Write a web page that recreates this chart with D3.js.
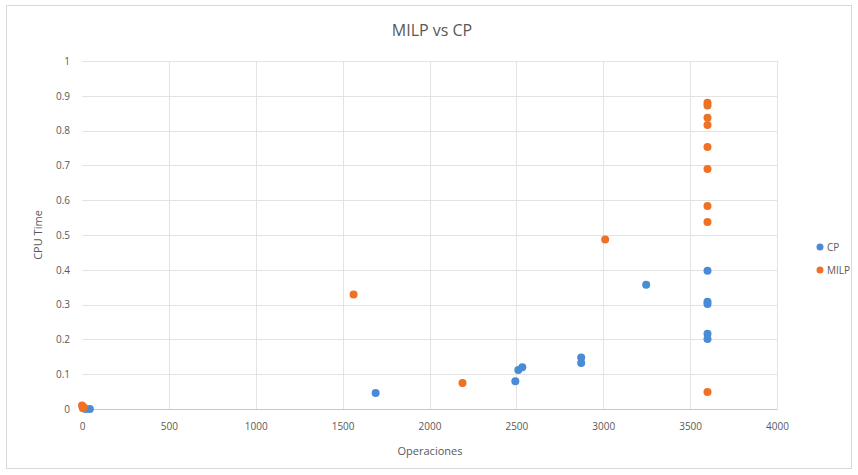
<!DOCTYPE html>
<html>
<head>
<meta charset="utf-8">
<script src="https://cdn.jsdelivr.net/npm/d3@7"></script>
<style>
  html, body { margin: 0; padding: 0; background: #fff; }
  text { font-family: "Open Sans", "Noto Sans", sans-serif; }
</style>
</head>
<body>
<svg id="chart" width="858" height="475"></svg>
<script>
// Series: [operations, CPU time]
const cpPoints = [
  [20, 0.0], [45, 0.0],
  [1690, 0.046],
  [2494, 0.080], [2511, 0.112], [2534, 0.120],
  [2873, 0.132], [2873, 0.148],
  [3247, 0.357],
  [3600, 0.397], [3600, 0.308], [3600, 0.302], [3600, 0.216], [3600, 0.201]
];
const milpPoints = [
  [0, 0.010], [5, 0.002], [10, 0.005],
  [1563, 0.329],
  [2190, 0.075],
  [3011, 0.487],
  [3600, 0.880], [3600, 0.872], [3600, 0.837], [3600, 0.816], [3600, 0.753],
  [3600, 0.690], [3600, 0.583], [3600, 0.537], [3600, 0.049]
];
const seriesNames = ["CP", "MILP"];
const seriesColors = ["#4a8bd6", "#ee7124"];
const xTicks = [0, 500, 1000, 1500, 2000, 2500, 3000, 3500, 4000];
const yTicks = [0, 0.1, 0.2, 0.3, 0.4, 0.5, 0.6, 0.7, 0.8, 0.9, 1];
const chartTitle = "MILP vs CP";
const xTitle = "Operaciones";
const yTitle = "CPU Time";

const svg = d3.select("#chart");
const W = 858, H = 475;
const plot = { left: 82, right: 777, top: 61, bottom: 409 };

// outer chart frame
svg.append("rect").attr("x", 6.5).attr("y", 5.5).attr("width", W - 13).attr("height", H - 12)
  .attr("fill", "#fff").attr("stroke", "#d9d9d9");

const x = d3.scaleLinear().domain([0, 4000]).range([plot.left, plot.right]);
const y = d3.scaleLinear().domain([0, 1]).range([plot.bottom, plot.top]);

// gridlines
const grid = svg.append("g");
grid.selectAll("line.h").data(yTicks.filter(d => d > 0)).join("line")
  .attr("x1", plot.left).attr("x2", plot.right)
  .attr("y1", d => Math.round(y(d)) + 0.5).attr("y2", d => Math.round(y(d)) + 0.5)
  .attr("stroke", "#e3e3e3");
grid.selectAll("line.v").data(xTicks.filter(d => d > 0)).join("line")
  .attr("x1", d => Math.round(x(d)) + 0.5).attr("x2", d => Math.round(x(d)) + 0.5)
  .attr("y1", plot.top).attr("y2", plot.bottom)
  .attr("stroke", "#e3e3e3");

// axes
const xAxis = svg.append("g").attr("transform", `translate(0,${plot.bottom})`)
  .call(d3.axisBottom(x).tickValues(xTicks).tickSize(0).tickPadding(14).tickFormat(d3.format("d")));
const yAxis = svg.append("g").attr("transform", `translate(${plot.left},0)`)
  .call(d3.axisLeft(y).tickValues(yTicks).tickSize(0).tickPadding(12).tickFormat(d => d3.format("")(+d.toFixed(1))));
[xAxis, yAxis].forEach(a => {
  a.selectAll("text").attr("fill", "#595959").style("font-size", "10px");
});
yAxis.select(".domain").remove();
xAxis.select(".domain").attr("stroke", "#c8c8c8");

// points
const series = [cpPoints, milpPoints];
series.forEach((pts, i) => {
  svg.append("g").selectAll("circle").data(pts).join("circle")
    .attr("cx", d => x(d[0])).attr("cy", d => y(d[1])).attr("r", 4)
    .attr("fill", seriesColors[i]);
});

// titles
svg.append("text").attr("x", 432).attr("y", 36).attr("text-anchor", "middle")
  .attr("fill", "#595959").style("font-size", "16px").text(chartTitle);
svg.append("text").attr("x", 430).attr("y", 455).attr("text-anchor", "middle")
  .attr("fill", "#595959").style("font-size", "11px").text(xTitle);
svg.append("text").attr("transform", "translate(42,235) rotate(-90)").attr("text-anchor", "middle")
  .attr("fill", "#595959").style("font-size", "11px").text(yTitle);

// legend
const legend = svg.append("g").attr("transform", "translate(820,247)");
seriesNames.forEach((name, i) => {
  const g = legend.append("g").attr("transform", `translate(0,${i * 23})`);
  g.append("circle").attr("cx", 0).attr("cy", 0).attr("r", 3.5).attr("fill", seriesColors[i]);
  g.append("text").attr("x", 7).attr("y", 3.5).attr("fill", "#595959").style("font-size", "10px").text(name);
});
</script>
</body>
</html>
